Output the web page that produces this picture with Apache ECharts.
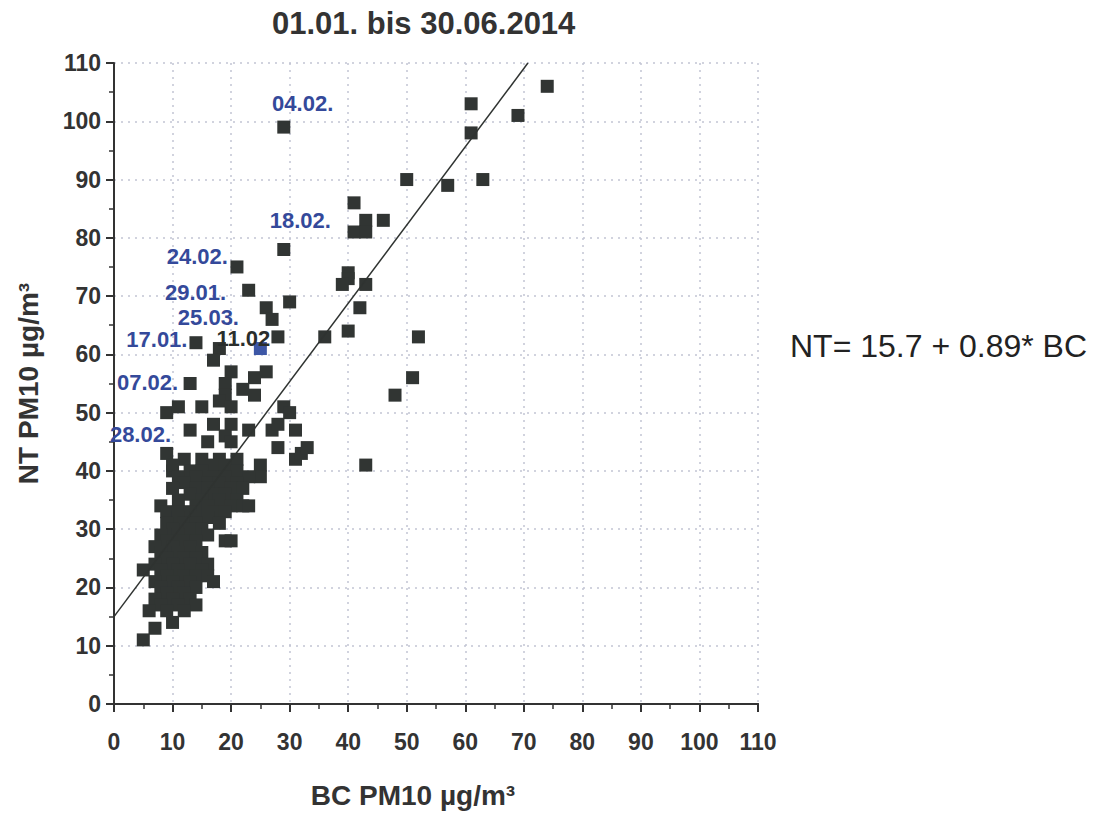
<!DOCTYPE html>
<html>
<head>
<meta charset="utf-8">
<script src="https://cdn.jsdelivr.net/npm/echarts@6/dist/echarts.min.js"></script>
<style>
html,body{margin:0;padding:0;background:#fff;}
#c{width:1098px;height:814px;}
</style>
</head>
<body>
<div id="c"></div>
<script>
// ---- Data ----
const chartTitle = '01.01. bis 30.06.2014';
const xAxisName = 'BC PM10 µg/m³';
const yAxisName = 'NT PM10 µg/m³';
const equationText = 'NT= 15.7 + 0.89* BC';

// Scattered (non-cluster) points
const bcScatter = [74,61,69,61,29,50,57,63,41,46,43,41,43,29,21,40,40,39,43,23,30,26,42,27,40,36,52,28,14,18,17,26,24,20,19,51,13,22,24,19,48,29,30,9,11,15,18,20,17,20,13,23,27,31,28,16,19,20,9,28,31,32,33,43,25,25,10,8,5];
const ntScatter = [106,103,101,98,99,90,89,90,86,83,83,81,81,78,75,74,73,72,72,71,69,68,68,66,64,63,63,63,62,61,59,57,56,57,55,56,55,54,53,53,53,51,50,50,51,51,52,51,48,48,47,47,47,47,48,45,46,45,43,44,42,43,44,41,41,39,40,34,23];

// Dense cluster: one NT level per row, with the BC values seen on that row
const clusterNT = [42,41,40,39,38,37,36,35,34,33,32,31,30,29,28,27,26,25,24,23,22,21,20,19,18,17,16,14,13,11];
const clusterBC = [
  [12,15,18,21],[10,17,19],[13,15,21],[11,14,17,19,23],[12,16,18,21],
  [10,14,16,20,22],[13,17,19],[11,15,18,21],[14,16,20,22,23],[9,11,13,17,19],
  [11,14,16],[9,12,14,18],[10,13,15],[8,11,16],[9,12,14,19,20],
  [7,10,13],[8,11,15],[9,12,14],[7,10,13,16],[8,11,15],
  [9,12,14,16],[7,10,13,17],[8,11,14],[9,12],[7,10,13],
  [8,11,14],[6,9,12],[10],[7],[5]
];

// Highlighted (blue) point, day 11.02
const bcHighlight = [25];
const ntHighlight = [61];

// Fit line as drawn (end points)
const fitBC = [0, 70.7];
const fitNT = [15, 110];

// Date annotations
const labelTexts = ['04.02.','18.02.','24.02.','29.01.','25.03.','17.01.','11.02','07.02.','28.02.'];
const labelBC    = [27.0, 26.6, 9.0, 8.7, 10.9, 2.1, 17.5, 0.5, -0.7];
const labelNT    = [103.0, 82.9, 76.8, 70.6, 66.3, 62.5, 62.8, 55.2, 46.3];
const labelDark  = [false,false,false,false,false,false,true,false,false];

// Axis ticks
const axisMin = 0, axisMax = 110, axisStep = 10;

// ---- Build ----
const mainData = bcScatter.map((x,i)=>[x, ntScatter[i]]);
clusterNT.forEach((y,r)=>clusterBC[r].forEach(x=>mainData.push([x,y])));
const blueData = bcHighlight.map((x,i)=>[x, ntHighlight[i]]);
const fitData = fitBC.map((x,i)=>[x, fitNT[i]]);
const blue = '#34499a';
const dark = '#313533';
const labelData = labelTexts.map((t,i)=>({
  value:[labelBC[i], labelNT[i]], name:t,
  label:{color: labelDark[i] ? '#2a2e2c' : blue}
}));

const FF = '"Liberation Sans", Arial, sans-serif';
const axisCommon = {
  type:'value', min:axisMin, max:axisMax, interval:axisStep,
  axisLine:{show:true, onZero:false, lineStyle:{color:'#333', width:2}},
  axisTick:{show:true, inside:false, length:8, lineStyle:{color:'#333', width:2}},
  minorTick:{show:true, splitNumber:2, length:5, lineStyle:{color:'#333', width:1.5}},
  splitLine:{show:true, lineStyle:{type:[2,5], color:'#c2c5d3', width:1.5}},
  axisLabel:{fontSize:23, fontWeight:'bold', color:'#333', fontFamily:FF},
  nameLocation:'middle',
  nameTextStyle:{fontSize:28, fontWeight:'bold', color:'#333', fontFamily:FF}
};

const chart = echarts.init(document.getElementById('c'), null, {renderer:'svg'});
chart.setOption({
  animation:false,
  backgroundColor:'#ffffff',
  title:{
    text:chartTitle, left:272, top:8, padding:0,
    textStyle:{fontSize:31, fontWeight:'bold', color:'#333', fontFamily:FF}
  },
  graphic:[{
    type:'text', left:790, top:330,
    style:{text:equationText, fontSize:32, fill:'#222', font:'32px "Liberation Sans", Arial, sans-serif'}
  }],
  grid:{left:114, right:340, top:63, bottom:105},
  xAxis:[
    Object.assign({}, axisCommon, {
      position:'bottom', name:xAxisName, nameGap:77,
      axisLabel:Object.assign({}, axisCommon.axisLabel, {margin:26}),
      nameTextStyle:Object.assign({}, axisCommon.nameTextStyle, {padding:[0,46,0,0]})
    }),
    {type:'value', min:axisMin, max:axisMax, position:'top',
     axisLine:{show:true, lineStyle:{color:'#333', width:2}},
     axisTick:{show:false}, axisLabel:{show:false}, splitLine:{show:false}}
  ],
  yAxis:[
    Object.assign({}, axisCommon, {
      position:'left', name:yAxisName, nameGap:72,
      axisLabel:Object.assign({}, axisCommon.axisLabel, {margin:13})
    })
  ],
  series:[
    {type:'scatter', data:mainData, symbol:'rect', symbolSize:13,
     itemStyle:{color:dark, opacity:1}, z:3},
    {type:'scatter', data:blueData, symbol:'rect', symbolSize:13,
     itemStyle:{color:'#3d57a6', opacity:1}, z:3},
    {type:'line', data:fitData, showSymbol:false, symbol:'none',
     lineStyle:{color:'#2f3331', width:1.5}, z:4, clip:true},
    {type:'scatter', data:labelData, symbolSize:0, clip:false, z:5,
     itemStyle:{opacity:1},
     label:{show:true, position:'right', distance:0, formatter:p=>p.name,
            fontSize:22, fontWeight:'bold', fontFamily:FF}}
  ]
});
</script>
</body>
</html>
